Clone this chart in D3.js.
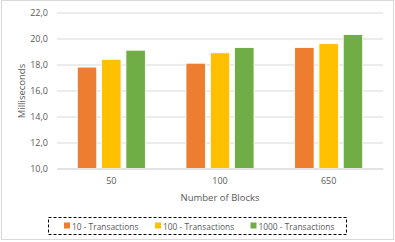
<!DOCTYPE html>
<html>
<head>
<meta charset="utf-8">
<script src="https://cdn.jsdelivr.net/npm/d3@7"></script>
<style>
  body { margin: 0; background: #fff; }
  text { font-family: "Open Sans", "DejaVu Sans", sans-serif; fill: #595959; }
</style>
</head>
<body>
<div id="graph"></div>
<script>
const categories = ['50', '100', '650'];
const seriesNames = ['10 - Transactions', '100 - Transactions', '1000 - Transactions'];
const tx10 = [17.8, 18.1, 19.3];
const tx100 = [18.4, 18.9, 19.6];
const tx1000 = [19.1, 19.3, 20.3];
const yTicks = [10, 12, 14, 16, 18, 20, 22];
const colors = ['#ed7d31', '#ffc000', '#70ad47'];

const series = [tx10, tx100, tx1000];
const svgWidth = 395, svgHeight = 242;
const margin = { left: 57, right: 12, top: 12, bottom: 74 };

const svg = d3.select('#graph').html('')
  .append('svg')
  .attr('width', svgWidth)
  .attr('height', svgHeight);

// chart border
svg.append('rect')
  .attr('x', 1.5).attr('y', 0.5)
  .attr('width', 392).attr('height', 239)
  .attr('fill', 'none')
  .attr('stroke', '#d9d9d9');

const xScale = d3.scaleBand()
  .domain(categories)
  .range([margin.left, svgWidth - margin.right]);

const inner = d3.scaleBand()
  .domain(d3.range(series.length))
  .range([0, 68])
  .paddingInner(0.2);

const yScale = d3.scaleLinear()
  .domain([10, 22])
  .range([168.5, 12.5]);

// gridlines + y labels
const yAxis = svg.append('g')
  .attr('transform', `translate(${margin.left},0)`)
  .call(d3.axisLeft(yScale).tickValues(yTicks)
    .tickSize(-(svgWidth - margin.right - margin.left))
    .tickPadding(9)
    .tickFormat(d => d3.format('.1f')(d).replace('.', ',')));
yAxis.select('.domain').remove();
yAxis.selectAll('line').attr('stroke', '#d9d9d9');
yAxis.selectAll('text').attr('font-size', 9).attr('fill', '#595959')
  .attr('font-family', '"Open Sans", "DejaVu Sans", sans-serif');

// bars
categories.forEach((c, i) => {
  const g = svg.append('g')
    .attr('transform', `translate(${xScale(c) + (xScale.bandwidth() - 68) / 2},0)`);
  g.selectAll('rect')
    .data(series.map((s, k) => ({ k, v: s[i] })))
    .enter().append('rect')
    .attr('x', d => inner(d.k))
    .attr('y', d => yScale(d.v))
    .attr('width', inner.bandwidth())
    .attr('height', d => yScale(10) - yScale(d.v))
    .attr('fill', d => colors[d.k])
    .attr('stroke', '#fff')
    .attr('stroke-width', 0.8);
});

// x axis
const xAxis = svg.append('g')
  .attr('transform', `translate(0,${yScale(10)})`)
  .call(d3.axisBottom(xScale).tickSize(0).tickPadding(9));
xAxis.select('.domain').attr('stroke', '#d9d9d9');
xAxis.selectAll('text').attr('font-size', 9).attr('fill', '#595959')
  .attr('font-family', '"Open Sans", "DejaVu Sans", sans-serif');

// axis titles
svg.append('text')
  .attr('x', (margin.left + svgWidth - margin.right) / 2)
  .attr('y', 201)
  .attr('text-anchor', 'middle')
  .attr('font-size', 9.5)
  .text('Number of Blocks');

svg.append('text')
  .attr('transform', 'translate(25,91) rotate(-90)')
  .attr('text-anchor', 'middle')
  .attr('font-size', 9.5)
  .text('Milliseconds');

// legend
svg.append('rect')
  .attr('x', 48.5).attr('y', 217.5)
  .attr('width', 298).attr('height', 17)
  .attr('fill', 'none')
  .attr('stroke', '#000')
  .attr('stroke-dasharray', '3,2');

const legendX = [64, 155, 250.5];
seriesNames.forEach((name, k) => {
  svg.append('rect')
    .attr('x', legendX[k]).attr('y', 222.5)
    .attr('width', 6).attr('height', 6)
    .attr('fill', colors[k]);
  svg.append('text')
    .attr('x', legendX[k] + 8)
    .attr('y', 229.5)
    .attr('font-size', 8.4)
    .text(name);
});
</script>
</body>
</html>
